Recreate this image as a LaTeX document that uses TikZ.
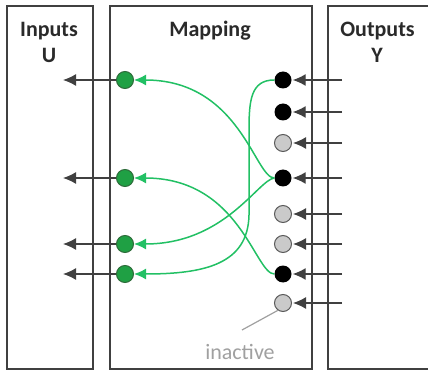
\documentclass[tikz,border=0pt]{standalone}
\usepackage{fontspec}
\setmainfont{Carlito}
\usetikzlibrary{arrows.meta}
\definecolor{boxline}{HTML}{404040}
\definecolor{txt}{HTML}{2A2A2A}
\definecolor{gcurve}{HTML}{22C064}
\definecolor{gfill}{HTML}{1FA044}
\definecolor{gdraw}{HTML}{2E6B3A}
\definecolor{inact}{HTML}{CACACA}
\definecolor{inactline}{HTML}{5A5A5A}
\definecolor{note}{HTML}{A0A0A0}
\tikzset{
  panel/.style={draw=boxline, line width=1.3pt},
  title/.style={anchor=base, font=\fontsize{22}{24}\selectfont\bfseries, text=txt, inner sep=0pt},
  outnode/.style={circle, minimum size=17pt, inner sep=0pt, fill=black},
  offnode/.style={circle, minimum size=17pt, inner sep=0pt, fill=inact, draw=inactline, line width=1pt},
  innode/.style={circle, minimum size=17pt, inner sep=0pt, fill=gfill, draw=gdraw, line width=1pt},
  feed/.style={draw=boxline, line width=1.3pt, -{Latex[length=13pt,width=12pt]}},
  link/.style={draw=gcurve, line width=1.5pt, -{Latex[length=12pt,width=11pt]}},
}
\begin{document}
\begin{tikzpicture}[x=1pt,y=-1pt]
\useasboundingbox (0,0) rectangle (428,371);
% panels
\draw[panel] (7,369) -- (7,6) -- (93,6) -- (93,369) -- cycle;
\draw[panel] (110,6) rectangle (312,369);
\draw[panel] (440,6) -- (328,6) -- (328,369) -- (440,369);
% titles
\node[title] (tin) at (49,36.5) {Inputs};
\node[title] (tu) at (49,63) {U};
\node[title] (tmap) at (210,36.5) {Mapping};
\node[title] (tout) at (377.5,36.5) {Outputs};
\node[title] (ty) at (377,63) {Y};
% output side nodes
\node[outnode] (n1) at (283,80) {};
\node[outnode] (n2) at (283,112) {};
\node[offnode] (n3) at (283,143) {};
\node[outnode] (n4) at (283,178) {};
\node[offnode] (n5) at (283,214) {};
\node[offnode] (n6) at (283,244) {};
\node[outnode] (n7) at (283,274) {};
\node[offnode] (n8) at (283,303) {};
% input side nodes
\node[innode] (g1) at (125,80) {};
\node[innode] (g2) at (125,178) {};
\node[innode] (g3) at (125,244) {};
\node[innode] (g4) at (125,274) {};
% feeds from outputs
\foreach \i/\y in {1/80,2/112,3/143,4/178,5/214,6/244,7/274,8/303}{
  \coordinate (s\i) at (342,\y);
  \draw[feed] (s\i) -- ([xshift=1pt]n\i.east);
}
% feeds to inputs
\foreach \i/\y in {1/80,2/178,3/244,4/274}{
  \coordinate (e\i) at (63,\y);
  \draw[feed] (g\i.west) -- (e\i);
}
% mapping curves
\draw[link] (n4.west) .. controls (255,178) and (240,80) .. (g1.east);
\draw[link] (n7.west) .. controls (255,274) and (240,178) .. (g2.east);
\draw[link] (n4.west) .. controls (258,180) and (225,244) .. (g3.east);
\draw[link] (n1.west) .. controls (251,80) and (249,100) .. (249,130) -- (249,215) .. controls (248,264) and (205,274) .. (g4.east);
% inactive note
\coordinate (ia) at (242,330);
\draw[note, line width=1.2pt] (n8.235) -- (ia);
\node[anchor=base, font=\fontsize{22}{24}\selectfont, text=note, inner sep=0pt] (inactive) at (240,359) {inactive};
\end{tikzpicture}
\end{document}
